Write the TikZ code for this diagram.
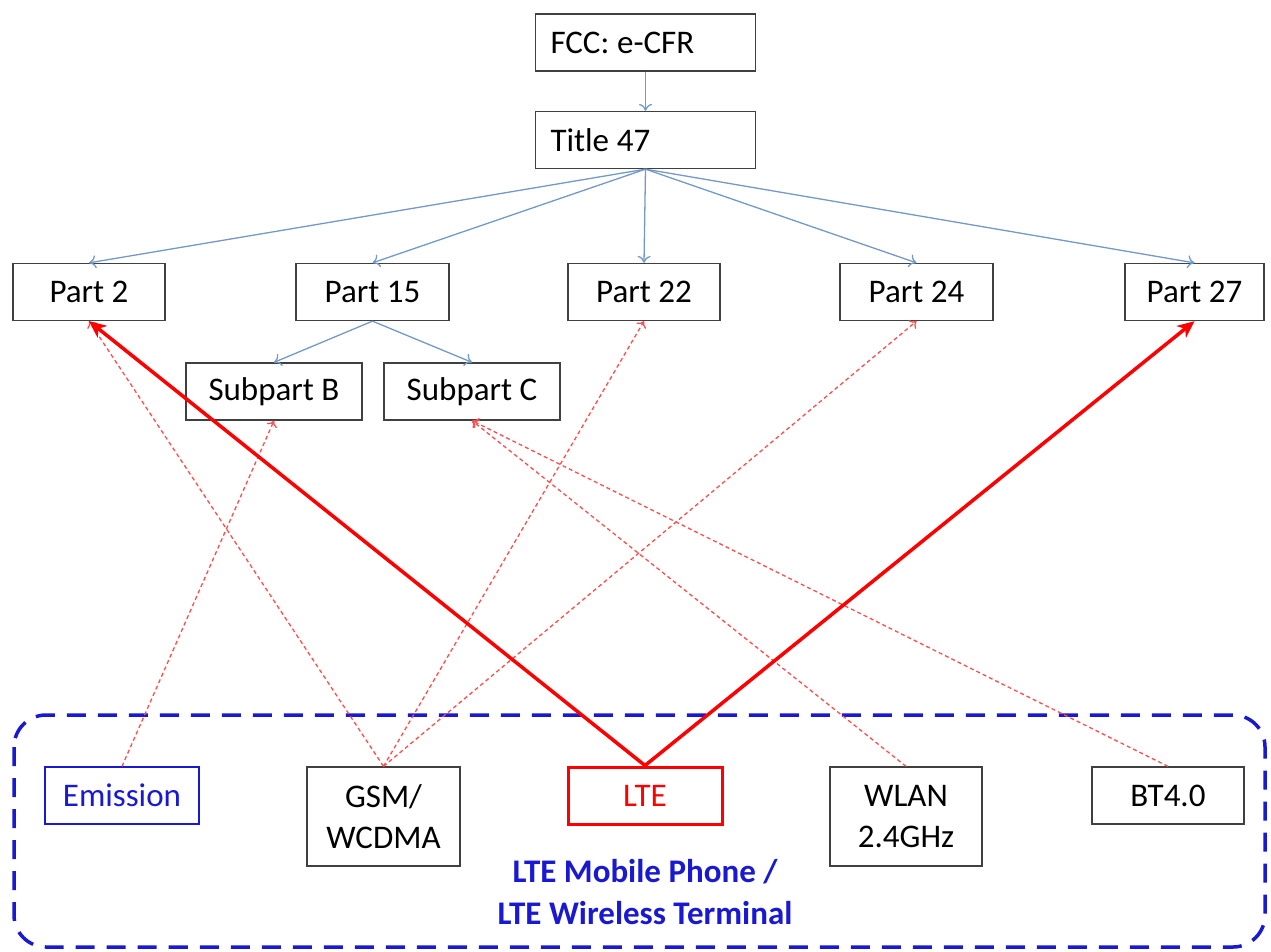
\documentclass[tikz,border=0pt]{standalone}
\usepackage{fontspec}
\setmainfont{Carlito}
\usetikzlibrary{arrows.meta}
\definecolor{arrblue}{RGB}{115,153,198}
\definecolor{regblue}{RGB}{25,25,210}
\begin{document}
\begin{tikzpicture}[x=1pt,y=-1pt,
  box/.style={draw=black!75, line width=1.3pt, fill=white, inner sep=0pt,
    minimum height=57pt, font=\fontsize{33}{41}\selectfont, align=center},
  tallbox/.style={box, minimum height=99pt},
  topbox/.style={box, text width=190pt, align=left, inner xsep=15pt},
  treearrow/.style={draw=arrblue, line width=1.3pt, -{To[length=7pt,width=13pt]}},
  mainlink/.style={draw=red, line width=3.5pt, -{Stealth[length=17pt,width=15pt,inset=5pt]}},
  minorlink/.style={draw=red!70, line width=1.3pt, dash pattern=on 4pt off 3pt, -{To[length=6pt,width=11pt]}},
  grouplabel/.style={font=\fontsize{33}{41}\selectfont\bfseries, text=regblue}
]
\useasboundingbox (0,0) rectangle (1271,951);

% region
\draw[regblue, line width=3.5pt, dash pattern=on 19pt off 12pt, rounded corners=32pt]
  (14,715) rectangle (1265,947);

% top
\node[topbox] (fcc) at (645.5,42.5) {FCC:\kern-0.1em\ e-CFR};
\node[topbox] (t47) at (645.5,140) {Title\kern-0.1em\ 47};

% parts
\node[box, minimum width=152pt] (p2)  at (89,292) {Part 2};
\node[box, minimum width=153pt] (p15) at (372.5,292) {Part 15};
\node[box, minimum width=152pt] (p22) at (644,292) {Part 22};
\node[box, minimum width=153pt] (p24) at (916.5,292) {Part 24};
\node[box, minimum width=139pt] (p27) at (1194.5,292) {Part 27};

\node[box, minimum width=176pt] (sb) at (274,391.5) {Subpart B};
\node[box, minimum width=176pt] (sc) at (472,391.5) {Subpart C};

% bottom
\node[box, draw=regblue, text=regblue, minimum width=154pt] (em) at (122,795.5) {Emission};
\node[tallbox, minimum width=153pt] (gsm) at (383.5,816.5) {GSM/\\WCDMA};
\node[box, draw=red, line width=3pt, text=red, minimum width=154pt] (lte) at (645,795.5) {LTE};
\node[tallbox, minimum width=152pt] (wlan) at (906,816.5) {WLAN\\2.4GHz};
\node[box, minimum width=152pt] (bt) at (1168,795.5) {BT4.0};

\node[grouplabel] (lab1) at (645,872) {LTE Mobile Phone /};
\node[grouplabel] (lab2) at (645,913) {LTE Wireless Terminal};

% tree
\draw[treearrow] (fcc.south) -- (t47.north);
\draw[treearrow] (t47.south) -- (p2.north);
\draw[treearrow] (t47.south) -- (p15.north);
\draw[treearrow] (t47.south) -- (p22.north);
\draw[treearrow] (t47.south) -- (p24.north);
\draw[treearrow] (t47.south) -- (p27.north);
\draw[treearrow] (p15.south) -- (sb.north);
\draw[treearrow] (p15.south) -- (sc.north);

% minor links
\draw[minorlink] (em.north) -- (sb.south);
\draw[minorlink] (gsm.north) -- (p2.south);
\draw[minorlink] (gsm.north) -- (p22.south);
\draw[minorlink] (gsm.north) -- (p24.south);
\draw[minorlink] (wlan.north) -- (sc.south);
\draw[minorlink] (bt.north) -- (sc.south);

% main links
\draw[mainlink] (lte.north) -- (p2.south);
\draw[mainlink] (lte.north) -- (p27.south);
\end{tikzpicture}
\end{document}
